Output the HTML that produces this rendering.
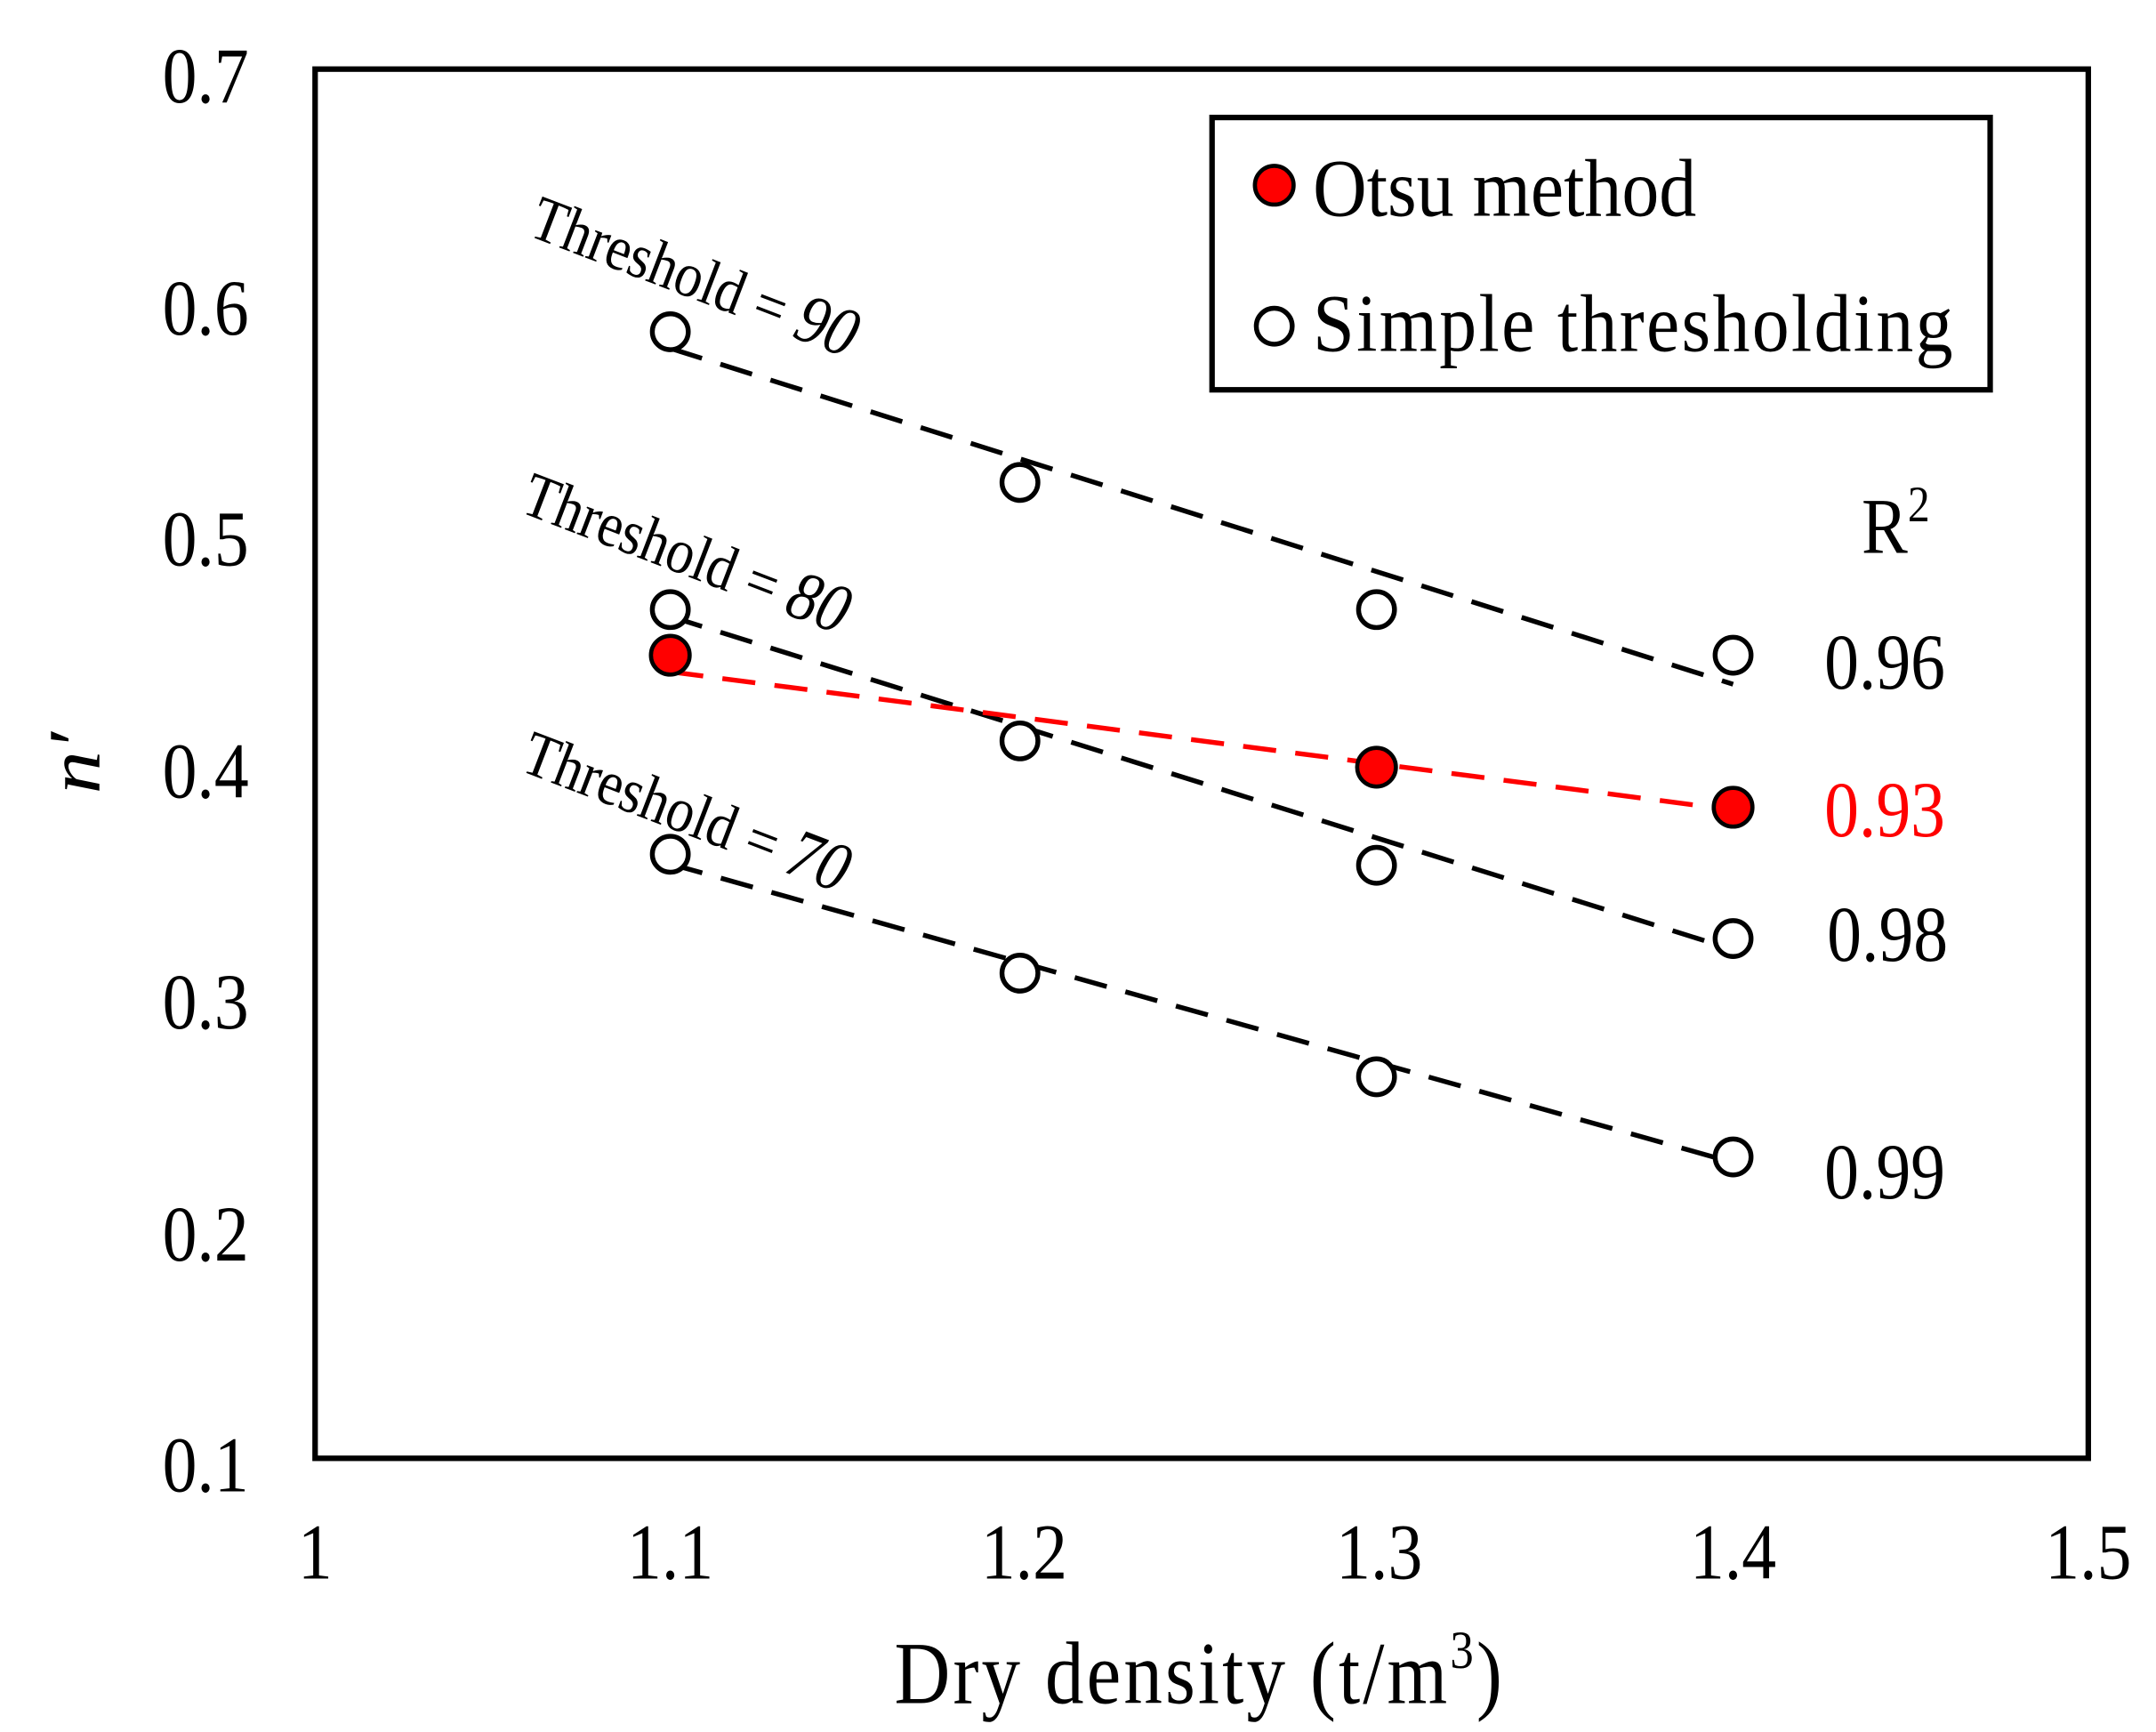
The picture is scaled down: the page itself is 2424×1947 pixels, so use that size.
<!DOCTYPE html>
<html><head><meta charset="utf-8"><style>html,body{margin:0;padding:0;background:#fff}svg{display:block}</style></head>
<body>
<svg width="2424" height="1947" viewBox="0 0 1560 1253" preserveAspectRatio="none" xmlns="http://www.w3.org/2000/svg" font-family="Liberation Serif, serif">
<rect x="0" y="0" width="1560" height="1253" fill="#fff"/>
<rect x="228" y="50" width="1283" height="1005" fill="none" stroke="#000" stroke-width="4"/>
<g font-size="50" text-anchor="end">
<text transform="translate(180,74) scale(1,1.15)">0.7</text>
<text transform="translate(180,242) scale(1,1.15)">0.6</text>
<text transform="translate(180,409) scale(1,1.15)">0.5</text>
<text transform="translate(180,577) scale(1,1.15)">0.4</text>
<text transform="translate(180,744) scale(1,1.15)">0.3</text>
<text transform="translate(180,912) scale(1,1.15)">0.2</text>
<text transform="translate(180,1079) scale(1,1.15)">0.1</text>
</g>
<g font-size="50" text-anchor="middle">
<text transform="translate(228,1142) scale(1,1.15)">1</text>
<text transform="translate(485,1142) scale(1,1.15)">1.1</text>
<text transform="translate(741,1142) scale(1,1.15)">1.2</text>
<text transform="translate(998,1142) scale(1,1.15)">1.3</text>
<text transform="translate(1254,1142) scale(1,1.15)">1.4</text>
<text transform="translate(1511,1142) scale(1,1.15)">1.5</text>
<text transform="translate(868,1232) scale(1,1.15)" font-size="56" letter-spacing="2">Dry  density (t/m<tspan font-size="34" dy="-22">3</tspan><tspan dy="22">)</tspan></text>
</g>
<text transform="translate(72,552) rotate(-90) scale(1.15,1)" font-size="54" font-style="italic" text-anchor="middle">n′</text>
<g stroke="#000" stroke-width="3.5" stroke-dasharray="24,14" fill="none">
<line x1="485" y1="252" x2="1254" y2="495"/>
<line x1="485" y1="446" x2="1254" y2="687"/>
<line x1="485" y1="625" x2="1254" y2="841"/>
</g>
<line x1="485" y1="486" x2="1254" y2="586" stroke="#f00" stroke-width="3.5" stroke-dasharray="24,14"/>
<g fill="#fff" stroke="#000" stroke-width="3.5">
<circle cx="485" cy="240" r="13"/><circle cx="738" cy="349" r="13"/><circle cx="996" cy="441" r="13"/><circle cx="1254" cy="474" r="13"/>
<circle cx="485" cy="441" r="13"/><circle cx="738" cy="536" r="13"/><circle cx="996" cy="626" r="13"/><circle cx="1254" cy="679" r="13"/>
<circle cx="485" cy="618" r="13"/><circle cx="738" cy="704" r="13"/><circle cx="996" cy="779" r="13"/><circle cx="1254" cy="837" r="13"/>
</g>
<g fill="#f00" stroke="#000" stroke-width="3">
<circle cx="485" cy="474" r="14"/><circle cx="996" cy="555" r="14"/><circle cx="1254" cy="584" r="14"/>
</g>
<g font-size="40">
<text transform="translate(381,170) rotate(21) scale(1,1.15)">Threshold = <tspan font-style="italic" font-size="44">90</tspan></text>
<text transform="translate(375,370) rotate(21) scale(1,1.15)">Threshold = <tspan font-style="italic" font-size="44">80</tspan></text>
<text transform="translate(375,557) rotate(21) scale(1,1.15)">Threshold = <tspan font-style="italic" font-size="44">70</tspan></text>
</g>
<rect x="877" y="85" width="563" height="197" fill="#fff" stroke="#000" stroke-width="4"/>
<circle cx="922" cy="134" r="14" fill="#f00" stroke="#000" stroke-width="3"/>
<circle cx="922" cy="236" r="13" fill="#fff" stroke="#000" stroke-width="3.5"/>
<g font-size="54">
<text transform="translate(950,156) scale(1,1.1)">Otsu method</text>
<text transform="translate(950,254) scale(1,1.1)" textLength="463">Simple thresholding</text>
<text transform="translate(1347,400) scale(1,1.15)" font-size="50">R<tspan font-size="32" dy="-20">2</tspan></text>
<text transform="translate(1320,498) scale(1,1.15)" font-size="50">0.96</text>
<text transform="translate(1320,605) scale(1,1.15)" font-size="50" fill="#f00">0.93</text>
<text transform="translate(1322,695) scale(1,1.15)" font-size="50">0.98</text>
<text transform="translate(1320,867) scale(1,1.15)" font-size="50">0.99</text>
</g>
</svg>
</body></html>
